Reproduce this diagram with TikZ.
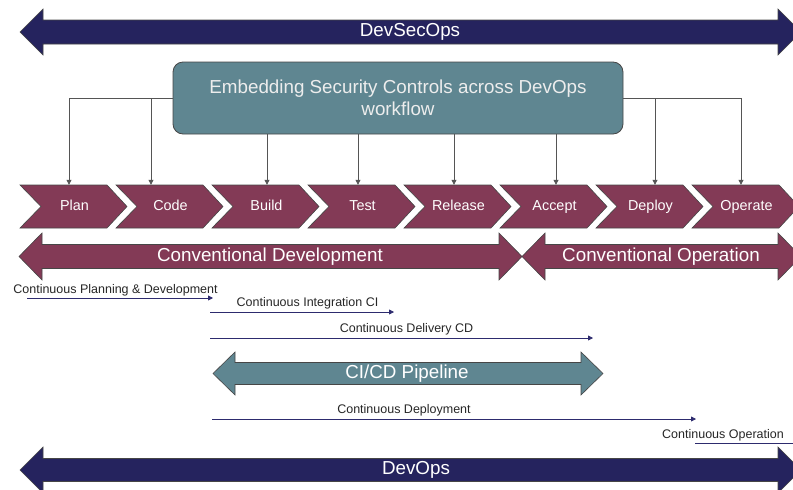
\documentclass[tikz,border=0pt]{standalone}
\usepackage{fontspec}
\setmainfont{Liberation Sans}
\usetikzlibrary{arrows.meta,calc}
\definecolor{navy}{RGB}{37,35,94}
\definecolor{maroon}{RGB}{131,58,86}
\definecolor{teal}{RGB}{95,134,145}
\definecolor{edge}{RGB}{70,70,70}
\definecolor{flowc}{RGB}{45,43,110}
\definecolor{conng}{RGB}{85,85,85}
\newcommand\dblarr[7]{%
  \filldraw[fill=#1,draw=edge,line width=0.6pt]
   (#2,#4) -- (#2+#7,#4-#5) -- (#2+#7,#4-#6) -- (#3-#7,#4-#6) -- (#3-#7,#4-#5)
   -- (#3,#4) -- (#3-#7,#4+#5) -- (#3-#7,#4+#6) -- (#2+#7,#4+#6) -- (#2+#7,#4+#5) -- cycle;}
\begin{document}
\begin{tikzpicture}[x=1pt,y=-1pt,
  bigtext/.style={text=white,font=\fontsize{18.8pt}{22pt}\selectfont,inner sep=0pt,text height=13.5pt,text depth=3.9pt},
  chevtext/.style={text=white,font=\fontsize{14.4pt}{17pt}\selectfont,inner sep=0pt,minimum width=87pt,minimum height=43pt,text height=10.4pt,text depth=3pt},
  smalltext/.style={text=black!85,font=\fontsize{12.5pt}{14pt}\selectfont,inner sep=0pt,text height=9pt,text depth=2.6pt},
  chevfill/.style={fill=maroon,draw=edge,line width=0.6pt},
  conn/.style={draw=conng,line width=0.8pt,-{Triangle[width=5pt,length=5pt]}},
  flow/.style={draw=flowc,line width=0.8pt,-{Triangle[width=5pt,length=5pt]}},
  flowplain/.style={draw=flowc,line width=0.8pt},
  secbox/.style={fill=teal,draw=edge,line width=0.8pt,rounded corners=10pt,minimum width=450pt,minimum height=72pt,align=center,text=white!93!black,font=\fontsize{18.8pt}{22pt}\selectfont}
]
\useasboundingbox (0,0) rectangle (793,490);
\clip (0,0) rectangle (793,490);

% DevSecOps
\dblarr{navy}{20}{801}{32}{23}{12}{23}
\node[bigtext] (devsecops) at (410,32) {DevSecOps};

% central box
\node[secbox] (box) at (398,98) {Embedding Security Controls across DevOps\\workflow};

% chevrons
\foreach \i/\t in {0/Plan,1/Code,2/Build,3/Test,4/Release,5/Accept,6/Deploy,7/Operate}{
  \pgfmathsetmacro\L{20+96*\i}
  \filldraw[chevfill] (\L,185) -- (\L+87,185) -- (\L+107,206.5) -- (\L+87,228) -- (\L,228) -- (\L+21,206.5) -- cycle;
  \node[chevtext] (c\i) at (\L+54.5,206.5) {\t};
}

% connectors
\coordinate (a0) at ($(c0.north)+(-5.5,0)$);
\coordinate (a1) at ($(c1.north)+(-19.5,0)$);
\coordinate (a2) at ($(c2.north)+(0.5,0)$);
\coordinate (a3) at ($(c3.north)+(-4.5,0)$);
\coordinate (a4) at ($(c4.north)+(-4.5,0)$);
\coordinate (a5) at ($(c5.north)+(1.5,0)$);
\coordinate (a6) at ($(c6.north)+(4.5,0)$);
\coordinate (a7) at ($(c7.north)+(-5.5,0)$);
\draw[conn] (box.west) -| (a0);
\draw[conn] (box.west) -| (a1);
\draw[conn] (box.south -| a2) -- (a2);
\draw[conn] (box.south -| a3) -- (a3);
\draw[conn] (box.south -| a4) -- (a4);
\draw[conn] (box.south -| a5) -- (a5);
\draw[conn] (box.east) -| (a6);
\draw[conn] (box.east) -| (a7);

% conventional arrows
\dblarr{maroon}{19}{522}{256.5}{23.5}{12}{23}
\node[bigtext] (convdev) at (270,256.5) {Conventional Development};
\dblarr{maroon}{522}{801}{256.5}{23.5}{12}{23}
\node[bigtext] (convop) at (661,256.5) {Conventional Operation};

% continuous flows
\node[smalltext] (cpd) at (115.5,290) {Continuous Planning \& Development};
\coordinate (f1s) at (27,298); \coordinate (f1e) at (213,298);
\draw[flow] (f1s) -- (f1e);

\node[smalltext] (cci) at (307.5,303.5) {Continuous Integration CI};
\coordinate (f2s) at (210,312); \coordinate (f2e) at (394,312);
\draw[flow] (f2s) -- (f2e);

\node[smalltext] (ccd) at (406.5,329.5) {Continuous Delivery CD};
\coordinate (f3s) at (210,338); \coordinate (f3e) at (593,338);
\draw[flow] (f3s) -- (f3e);

% CI/CD pipeline
\dblarr{teal}{213}{603}{373.5}{21.5}{11}{22}
\node[bigtext] (cicd) at (407,373.5) {CI/CD Pipeline};

\node[smalltext] (cdep) at (404,410) {Continuous Deployment};
\coordinate (f4s) at (212,419); \coordinate (f4e) at (696,419);
\draw[flow] (f4s) -- (f4e);

\node[smalltext] (cop) at (723,435.5) {Continuous Operation};
\coordinate (f5s) at (695,443); \coordinate (f5e) at (800,443);
\draw[flowplain] (f5s) -- (f5e);

% DevOps
\dblarr{navy}{20}{801}{470}{23}{11.5}{23}
\node[bigtext] (devops) at (416,470) {DevOps};
\end{tikzpicture}
\end{document}
